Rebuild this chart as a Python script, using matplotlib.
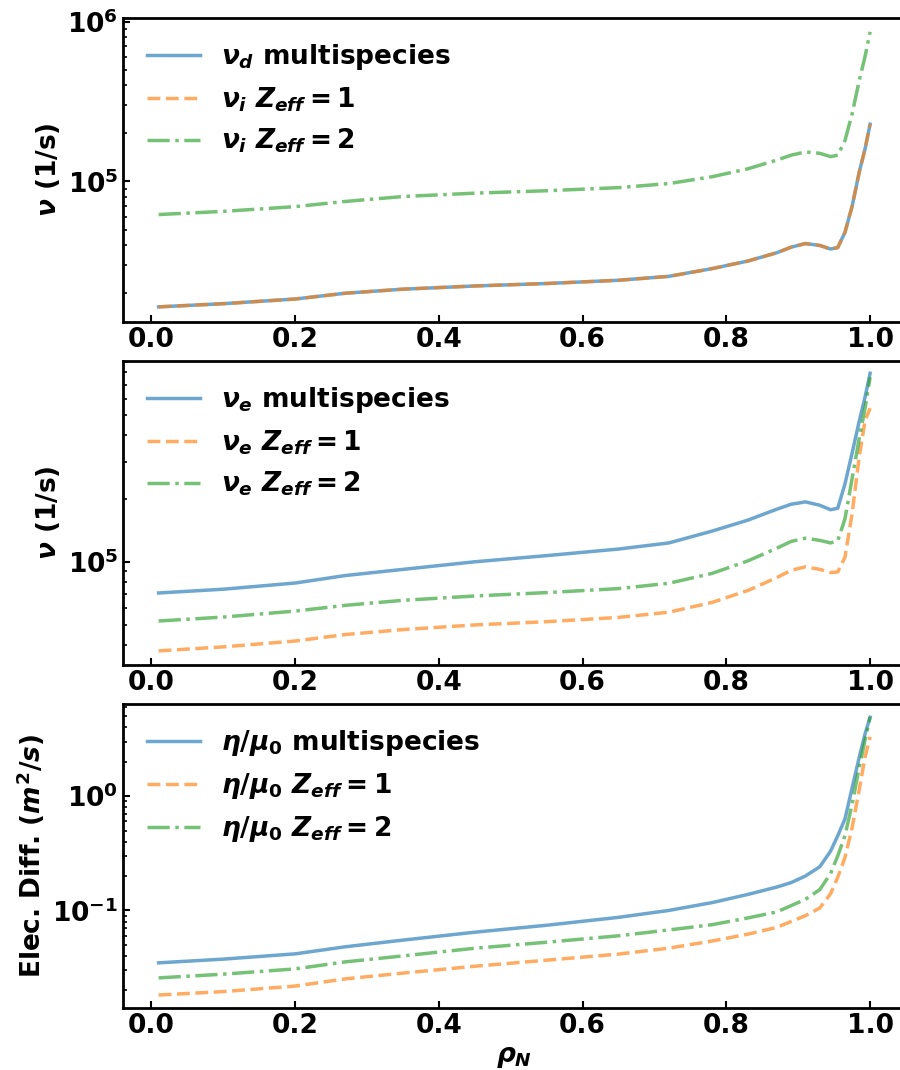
import numpy as np
import matplotlib
matplotlib.use("Agg")
import matplotlib.pyplot as plt

plt.rcParams["font.family"] = "DejaVu Sans"
plt.rcParams["font.weight"] = "bold"
plt.rcParams["font.size"] = 19
plt.rcParams["mathtext.fontset"] = "custom"
plt.rcParams["mathtext.rm"] = "DejaVu Sans:bold"
plt.rcParams["mathtext.it"] = "DejaVu Sans:italic:bold"
plt.rcParams["mathtext.bf"] = "DejaVu Sans:bold"
plt.rcParams["axes.linewidth"] = 2

# normalised radius
rho = [0.01, 0.1, 0.2, 0.27, 0.35, 0.45, 0.55, 0.65, 0.72, 0.78, 0.83,
       0.87, 0.89, 0.91, 0.93, 0.945, 0.955, 0.965, 0.975, 0.985, 0.993, 1.0]

# panel 1: ion collision frequency (1/s)
nu_d_multi = [16430, 17200, 18400, 20000, 21200, 22200, 23000, 24100, 25500, 28500, 31800,
              35800, 38800, 40900, 39800, 37800, 38600, 48000, 70000, 115000, 160000, 228000]
nu_i_z1 = [16430, 17200, 18400, 20000, 21200, 22200, 23000, 24100, 25500, 28500, 31800,
           35800, 38800, 40900, 39800, 37800, 38600, 48000, 70000, 115000, 160000, 228000]
nu_i_z2 = [62100, 65000, 69600, 75000, 80500, 84500, 87500, 91500, 97000, 107000, 120000,
           136000, 146000, 153000, 150000, 143000, 146000, 180000, 265000, 430000, 605000, 863000]

# panel 2: electron collision frequency (1/s)
nu_e_multi = [71000, 74000, 79200, 86000, 92000, 100000, 107000, 115000, 123000, 140000, 158000,
              178000, 188000, 193000, 186000, 177000, 180000, 235000, 330000, 470000, 610000, 792000]
nu_e_z1 = [37600, 39300, 41900, 45000, 47500, 50000, 51800, 54300, 57500, 64000, 73000,
           84000, 91000, 94600, 92000, 88800, 89500, 105000, 170000, 320000, 470000, 540000]
nu_e_z2 = [52200, 54500, 58200, 62000, 65500, 68700, 71300, 74500, 79000, 88000, 101000,
           116000, 125000, 129500, 126500, 123000, 126000, 160000, 250000, 390000, 540000, 758000]

# panel 3: electron resistive diffusivity (m^2/s)
eta_multi = [0.0348, 0.0375, 0.0417, 0.0481, 0.055, 0.0645, 0.0742, 0.087, 0.1, 0.117, 0.138,
             0.16, 0.175, 0.2, 0.241, 0.33, 0.45, 0.63, 1.18, 2.2, 3.5, 4.9]
eta_z1 = [0.0182, 0.0195, 0.0218, 0.0252, 0.0283, 0.0325, 0.0367, 0.0415, 0.0468, 0.054, 0.062,
          0.071, 0.08, 0.09, 0.105, 0.14, 0.195, 0.29, 0.53, 1.15, 2.2, 3.3]
eta_z2 = [0.0257, 0.0277, 0.0308, 0.0355, 0.040, 0.0467, 0.0527, 0.0600, 0.0675, 0.075, 0.086,
          0.097, 0.11, 0.125, 0.152, 0.21, 0.3, 0.45, 0.85, 1.8, 3.1, 4.9]

panels = [
    ([nu_d_multi, nu_i_z1, nu_i_z2],
     [r"$\nu_d$ multispecies", r"$\nu_i\ Z_{eff}=1$", r"$\nu_i\ Z_{eff}=2$"],
     r"$\nu$ (1/s)", (1.32e4, 1.05e6)),
    ([nu_e_multi, nu_e_z1, nu_e_z2],
     [r"$\nu_e$ multispecies", r"$\nu_e\ Z_{eff}=1$", r"$\nu_e\ Z_{eff}=2$"],
     r"$\nu$ (1/s)", (3.22e4, 9.05e5)),
    ([eta_multi, eta_z1, eta_z2],
     [r"$\eta/\mu_0$ multispecies", r"$\eta/\mu_0\ Z_{eff}=1$", r"$\eta/\mu_0\ Z_{eff}=2$"],
     r"Elec. Diff. $(m^2/s)$", (0.0140, 6.37)),
]

colors = ["#1f77b4", "#ff7f0e", "#2ca02c"]
styles = ["-", "--", "-."]

fig = plt.figure(figsize=(9, 10.7), dpi=100)
bottoms = [0.699, 0.3785, 0.0579]

for (series, labels, ylab, ylim), b in zip(panels, bottoms):
    ax = fig.add_axes([0.1367, b, 0.8696, 0.284])
    for vals, lab, c, ls in zip(series, labels, colors, styles):
        ax.plot(rho, vals, ls, color=c, lw=2.5, alpha=0.65, label=lab)
    ax.set_yscale("log")
    ax.set_ylim(*ylim)
    ax.set_xlim(-0.0395, 1.0495)
    ax.set_xticks([0.0, 0.2, 0.4, 0.6, 0.8, 1.0])
    ax.tick_params(axis="both", which="both", direction="in")
    ax.tick_params(axis="both", which="major", labelsize=19, width=1.5, length=5)
    ax.tick_params(axis="y", which="minor", width=1.2, length=3)
    ax.set_ylabel(ylab, fontsize=19, fontweight="bold")
    ax.legend(loc="upper left", frameon=False, fontsize=19)

ax.set_xlabel(r"$\rho_N$", fontsize=19)

fig.savefig("out.png", dpi=100)
